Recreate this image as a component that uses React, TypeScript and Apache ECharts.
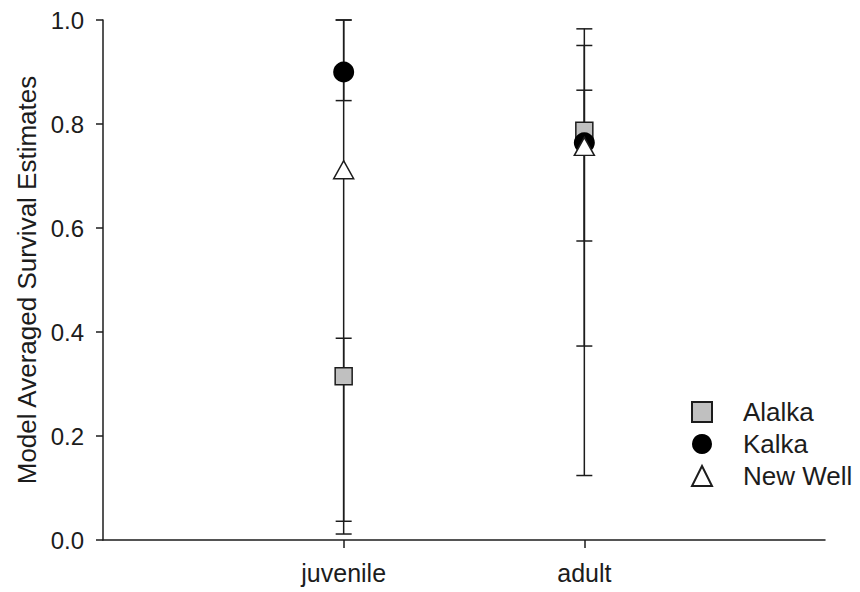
import React, { useEffect, useRef } from "react";
import * as echarts from "echarts";

// Age classes on the x axis (padded with empty slots at both ends)
const ageClasses = ["", "juvenile", "adult", ""];
const yTicks = [0, 0.2, 0.4, 0.6, 0.8, 1.0];

// Survival estimates per site, [juvenile, adult]
const alalka = [0.315, 0.787];
const alalkaLow = [0.036, 0.575];
const alalkaHigh = [0.388, 0.951];

const kalka = [0.9, 0.764];
const kalkaLow = [0.845, 0.373];
const kalkaHigh = [1.0, 0.983];

const newWell = [0.712, 0.757];
const newWellLow = [0.0115, 0.124];
const newWellHigh = [1.0, 0.865];

const FONT = "'Liberation Sans', Arial, sans-serif";
const INK = "#1c1c1c";

const points = (vals: number[]) => vals.map((v, i) => [i + 1, v]);
const bars = (lo: number[], hi: number[]) => lo.map((l, i) => [i + 1, l, hi[i]]);

function errorBarSeries(name: string, lo: number[], hi: number[]) {
  return {
    name,
    type: "custom",
    z: 1,
    data: bars(lo, hi),
    encode: { x: 0, y: [1, 2] },
    renderItem: (_params: any, api: any) => {
      const x = api.value(0);
      const top = api.coord([x, api.value(2)]);
      const bottom = api.coord([x, api.value(1)]);
      const half = 8;
      const style = { stroke: INK, lineWidth: 1.5 };
      return {
        type: "group",
        children: [
          { type: "line", shape: { x1: top[0], y1: top[1], x2: bottom[0], y2: bottom[1] }, style },
          { type: "line", shape: { x1: top[0] - half, y1: top[1], x2: top[0] + half, y2: top[1] }, style },
          { type: "line", shape: { x1: bottom[0] - half, y1: bottom[1], x2: bottom[0] + half, y2: bottom[1] }, style },
        ],
      };
    },
  };
}

export default function App() {
  const ref = useRef<HTMLDivElement>(null);

  useEffect(() => {
    document.body.style.margin = "0";
    const chart = echarts.init(ref.current!, null, { renderer: "svg" });
    chart.setOption({
      animation: false,
      backgroundColor: "#ffffff",
      grid: { left: 103, right: 35, top: 20, bottom: 52 },
      legend: {
        orient: "vertical",
        left: 686,
        top: 394,
        itemWidth: 20,
        itemHeight: 20,
        itemGap: 6,
        data: ["Alalka", "Kalka", "New Well"],
        textStyle: {
          fontFamily: FONT,
          fontSize: 26,
          color: INK,
          padding: [0, 0, 0, 26],
        },
      },
      xAxis: {
        type: "category",
        data: ageClasses,
        boundaryGap: false,
        axisLine: { lineStyle: { color: INK, width: 1.5 } },
        axisTick: {
          length: 8,
          interval: (i: number) => i === 1 || i === 2,
          lineStyle: { color: INK, width: 1.5 },
        },
        axisLabel: { interval: 0, margin: 20, fontFamily: FONT, fontSize: 25, color: INK },
        splitLine: { show: false },
      },
      yAxis: {
        type: "value",
        min: yTicks[0],
        max: yTicks[yTicks.length - 1],
        interval: 0.2,
        name: "Model Averaged Survival Estimates",
        nameLocation: "middle",
        nameGap: 62,
        nameTextStyle: { fontFamily: FONT, fontSize: 26, color: INK },
        axisLine: { show: true, lineStyle: { color: INK, width: 1.5 } },
        axisTick: { show: true, length: 7, lineStyle: { color: INK, width: 1.5 } },
        axisLabel: {
          margin: 19,
          fontFamily: FONT,
          fontSize: 24,
          color: INK,
          formatter: (v: number) => v.toFixed(1),
        },
        splitLine: { show: false },
      },
      series: [
        errorBarSeries("Alalka CI", alalkaLow, alalkaHigh),
        errorBarSeries("Kalka CI", kalkaLow, kalkaHigh),
        errorBarSeries("New Well CI", newWellLow, newWellHigh),
        {
          name: "Alalka",
          type: "scatter",
          z: 3,
          symbol: "rect",
          symbolSize: 17,
          data: points(alalka),
          itemStyle: { color: "#c0c0c0", borderColor: INK, borderWidth: 1.5, opacity: 1 },
        },
        {
          name: "Kalka",
          type: "scatter",
          z: 4,
          symbol: "circle",
          symbolSize: 21,
          data: points(kalka),
          itemStyle: { color: "#000000", borderColor: "#000000", borderWidth: 0, opacity: 1 },
        },
        {
          name: "New Well",
          type: "scatter",
          z: 5,
          symbol: "triangle",
          symbolSize: [20, 18],
          data: points(newWell),
          itemStyle: { color: "#ffffff", borderColor: INK, borderWidth: 1.5, opacity: 1 },
        },
      ],
    });
    return () => chart.dispose();
  }, []);

  return <div ref={ref} style={{ width: 860, height: 592 }} />;
}
